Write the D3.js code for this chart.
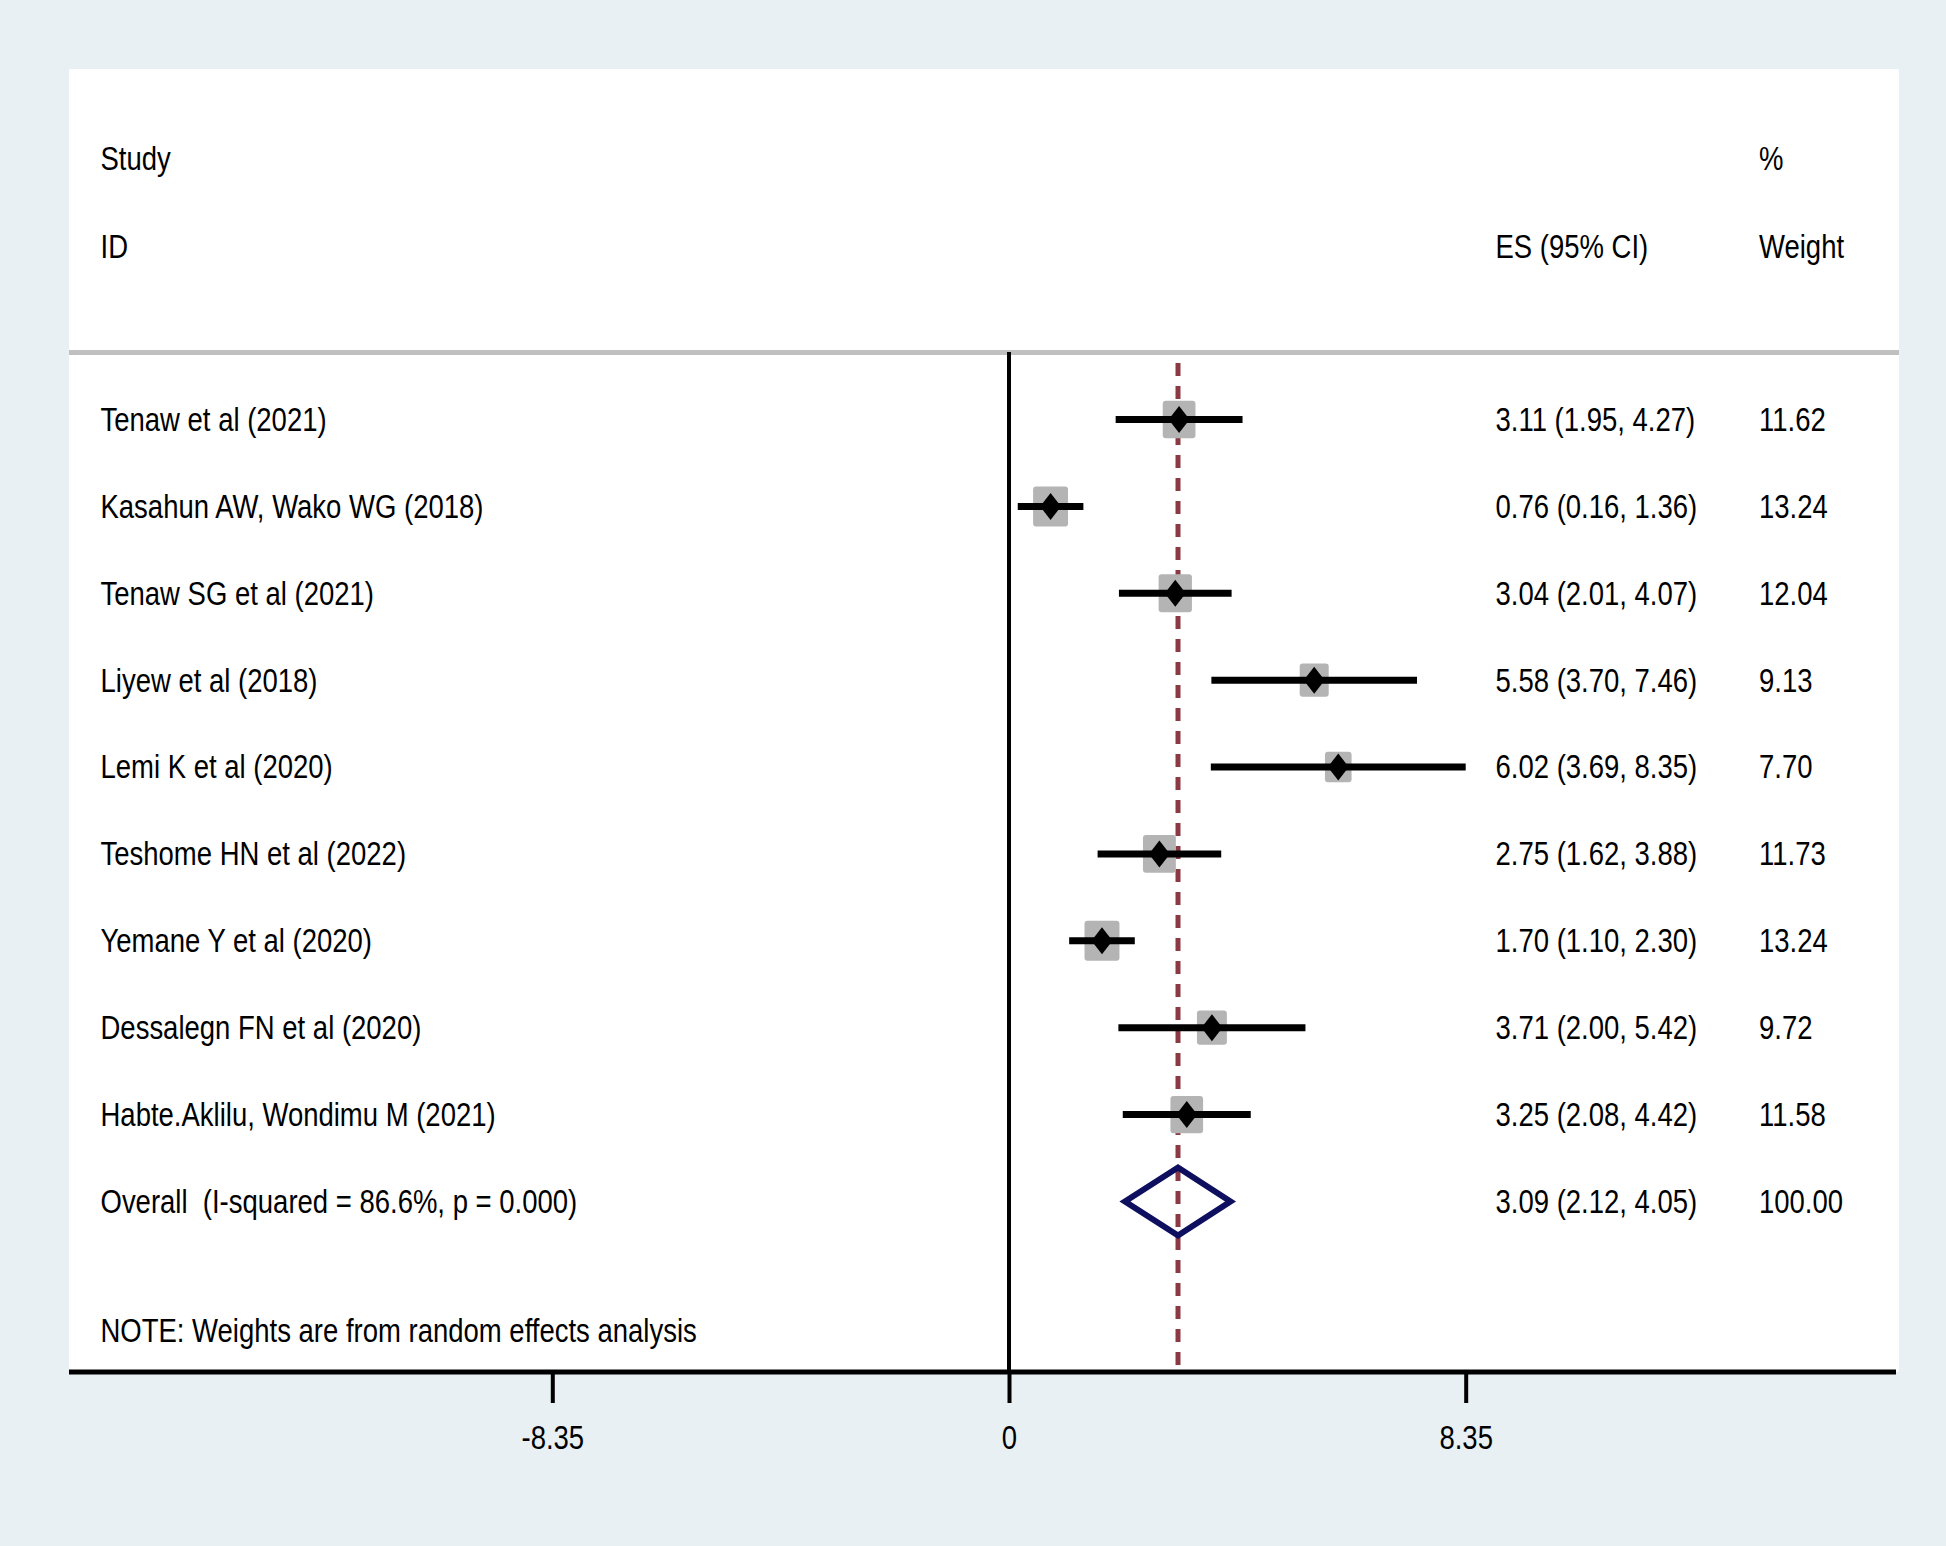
<!DOCTYPE html>
<html>
<head>
<meta charset="utf-8">
<script src="https://cdn.jsdelivr.net/npm/d3@7"></script>
<style>
  body { margin: 0; background: #e8f0f3; }
  svg text { font-family: "Liberation Sans", Arial, sans-serif; white-space: pre; }
</style>
</head>
<body>
<svg id="chart" width="1946" height="1546"></svg>
<script>
var studies = ["Tenaw et al (2021)", "Kasahun AW, Wako WG (2018)", "Tenaw SG et al (2021)",
  "Liyew et al (2018)", "Lemi K et al (2020)", "Teshome HN et al (2022)",
  "Yemane Y et al (2020)", "Dessalegn FN et al (2020)", "Habte.Aklilu, Wondimu M (2021)"];
var es = [3.11, 0.76, 3.04, 5.58, 6.02, 2.75, 1.70, 3.71, 3.25];
var lower = [1.95, 0.16, 2.01, 3.70, 3.69, 1.62, 1.10, 2.00, 2.08];
var upper = [4.27, 1.36, 4.07, 7.46, 8.35, 3.88, 2.30, 5.42, 4.42];
var weights = [11.62, 13.24, 12.04, 9.13, 7.70, 11.73, 13.24, 9.72, 11.58];

var overallLabel = "Overall  (I-squared = 86.6%, p = 0.000)";
var overallEs = 3.09, overallLower = 2.12, overallUpper = 4.05, overallWeight = 100.00;

var xTicks = [-8.35, 0, 8.35];
var xTickLabels = ["-8.35", "0", "8.35"];
var noteText = "NOTE: Weights are from random effects analysis";

var width = 1946, height = 1546;
var panel = { left: 69, right: 1899, top: 69, bottom: 1372 };
var sy = 1.2; // stata output is a bit stretched vertically

var svg = d3.select("#chart");

var x = d3.scaleLinear()
    .domain([0, 8.35])
    .range([1009, 1465.7]);

var rows = d3.range(studies.length + 1);
var y = d3.scalePoint()
    .domain(rows)
    .range([419.5, 1201.5]);

function fmt(v) { return d3.format(".2f")(v); }

function addText(g, tx, ty, str, anchor) {
  g.append("text")
    .attr("transform", "translate(" + tx + "," + ty + ") scale(1," + sy + ")")
    .attr("text-anchor", anchor || "start")
    .attr("dominant-baseline", "central")
    .style("font-size", "27.5px")
    .style("fill", "#000")
    .text(str);
}

// white plot panel
svg.append("rect")
    .attr("x", panel.left)
    .attr("y", panel.top)
    .attr("width", panel.right - panel.left)
    .attr("height", panel.bottom - panel.top)
    .attr("rx", 2)
    .style("fill", "#fff");

var txt = svg.append("g");
var colLabel = 100.5, colEs = 1495.5, colW = 1759;

// header
addText(txt, colLabel, 159, "Study");
addText(txt, colLabel, 246.5, "ID");
addText(txt, colW, 159, "%");
addText(txt, colEs, 246.5, "ES (95% CI)");
addText(txt, colW, 246.5, "Weight");

svg.append("line")
    .attr("x1", panel.left).attr("x2", panel.right)
    .attr("y1", 352.5).attr("y2", 352.5)
    .attr("stroke", "#c0c0c0")
    .attr("stroke-width", 5);

// null line
svg.append("line")
    .attr("x1", x(0)).attr("x2", x(0))
    .attr("y1", 352).attr("y2", panel.bottom)
    .attr("stroke", "#000")
    .attr("stroke-width", 4);

// overall effect line
svg.append("line")
    .attr("x1", x(overallEs)).attr("x2", x(overallEs))
    .attr("y1", 363).attr("y2", panel.bottom - 2)
    .attr("stroke", "#8b3a44")
    .attr("stroke-width", 5)
    .attr("stroke-dasharray", "13,10");

var data = studies.map(function (s, i) {
  return { name: s, es: es[i], lo: lower[i], hi: upper[i], w: weights[i], row: i };
});

var marks = svg.append("g");

marks.selectAll("rect.box")
    .data(data)
    .enter().append("rect")
    .attr("class", "box")
    .attr("x", d => x(d.es) - 9.6 * Math.sqrt(d.w) / 2)
    .attr("y", d => y(d.row) - 11 * Math.sqrt(d.w) / 2)
    .attr("width", d => 9.6 * Math.sqrt(d.w))
    .attr("height", d => 11 * Math.sqrt(d.w))
    .attr("rx", 3)
    .style("fill", "#b4b4b4");

marks.selectAll("line.ci")
    .data(data)
    .enter().append("line")
    .attr("class", "ci")
    .attr("x1", d => x(d.lo))
    .attr("x2", d => x(d.hi))
    .attr("y1", d => y(d.row))
    .attr("y2", d => y(d.row))
    .attr("stroke", "#000")
    .attr("stroke-width", 7);

marks.selectAll("path.pt")
    .data(data)
    .enter().append("path")
    .attr("class", "pt")
    .attr("d", function (d) {
      var cx = x(d.es), cy = y(d.row);
      return "M" + (cx - 10.5) + "," + cy + "L" + cx + "," + (cy - 13.5) +
        "L" + (cx + 10.5) + "," + cy + "L" + cx + "," + (cy + 13.5) + "Z";
    })
    .style("fill", "#000");

// pooled diamond
var oy = y(studies.length);
svg.append("path")
    .attr("d", "M" + x(overallLower) + "," + oy + "L" + x(overallEs) + "," + (oy - 34) +
      "L" + x(overallUpper) + "," + oy + "L" + x(overallEs) + "," + (oy + 34) + "Z")
    .style("fill", "none")
    .attr("stroke", "#0f0f5f")
    .attr("stroke-width", 6)
    .attr("stroke-linejoin", "miter");

// row texts
data.forEach(function (d) {
  addText(txt, colLabel, y(d.row), d.name);
  addText(txt, colEs, y(d.row), fmt(d.es) + " (" + fmt(d.lo) + ", " + fmt(d.hi) + ")");
  addText(txt, colW, y(d.row), fmt(d.w));
});
addText(txt, colLabel, oy, overallLabel);
addText(txt, colEs, oy, fmt(overallEs) + " (" + fmt(overallLower) + ", " + fmt(overallUpper) + ")");
addText(txt, colW, oy, fmt(overallWeight));
addText(txt, colLabel, 1331, noteText);

// x axis
var axis = svg.append("g")
    .attr("transform", "translate(0," + panel.bottom + ")")
    .call(d3.axisBottom(x)
      .tickValues(xTicks)
      .tickSize(31)
      .tickPadding(0)
      .tickFormat((d, i) => xTickLabels[i]));

axis.select(".domain").remove();
axis.selectAll(".tick line")
    .attr("stroke", "#000")
    .attr("stroke-width", 4);
axis.selectAll(".tick text")
    .attr("y", 0)
    .attr("dy", null)
    .attr("transform", "translate(0,66) scale(1," + sy + ")")
    .attr("dominant-baseline", "central")
    .style("font-size", "27.5px")
    .style("fill", "#000");

svg.append("line")
    .attr("x1", panel.left).attr("x2", panel.right - 3)
    .attr("y1", panel.bottom).attr("y2", panel.bottom)
    .attr("stroke", "#000")
    .attr("stroke-width", 5);
</script>
</body>
</html>
